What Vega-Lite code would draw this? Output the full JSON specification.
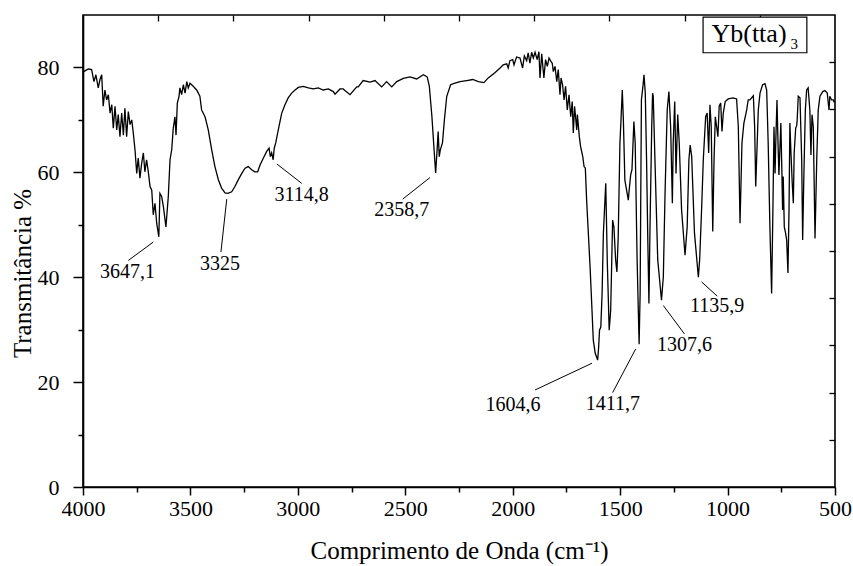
{
  "$schema": "https://vega.github.io/schema/vega-lite/v6.json",
  "width": 752,
  "height": 472,
  "autosize": {"type": "none"},
  "padding": {"left": 83, "top": 15, "right": 18, "bottom": 79},
  "background": "white",
  "config": {
    "view": {"stroke": "black", "strokeWidth": 1.6},
    "font": "Liberation Serif",
    "text": {"font": "Liberation Serif", "color": "black"}
  },
  "datasets": {
    "spectrum": [
      {"w": 4000, "t": 79.0}, {"w": 3993, "t": 79.3}, {"w": 3975, "t": 79.7}, {"w": 3960, "t": 79.6},
      {"w": 3949, "t": 77.3}, {"w": 3940, "t": 78.6}, {"w": 3929, "t": 76.1}, {"w": 3921, "t": 77.7},
      {"w": 3913, "t": 78.6}, {"w": 3906, "t": 72.6}, {"w": 3898, "t": 75.7}, {"w": 3890, "t": 73.8},
      {"w": 3882, "t": 74.8}, {"w": 3874, "t": 71.3}, {"w": 3866, "t": 72.9}, {"w": 3859, "t": 68.4},
      {"w": 3851, "t": 72.6}, {"w": 3843, "t": 68.1}, {"w": 3836, "t": 71.0}, {"w": 3828, "t": 66.8},
      {"w": 3820, "t": 71.3}, {"w": 3812, "t": 67.1}, {"w": 3805, "t": 72.2}, {"w": 3797, "t": 66.8},
      {"w": 3789, "t": 71.6}, {"w": 3781, "t": 69.1}, {"w": 3773, "t": 70.0}, {"w": 3766, "t": 67.5},
      {"w": 3758, "t": 64.3}, {"w": 3750, "t": 59.8}, {"w": 3743, "t": 62.7}, {"w": 3735, "t": 58.9},
      {"w": 3727, "t": 61.7}, {"w": 3719, "t": 63.7}, {"w": 3712, "t": 60.1}, {"w": 3704, "t": 62.4},
      {"w": 3696, "t": 60.1}, {"w": 3688, "t": 57.3}, {"w": 3680, "t": 56.6}, {"w": 3673, "t": 51.9},
      {"w": 3665, "t": 54.1}, {"w": 3657, "t": 50.3}, {"w": 3647.1, "t": 47.7}, {"w": 3642, "t": 56.0},
      {"w": 3634, "t": 55.4}, {"w": 3626, "t": 53.5}, {"w": 3618, "t": 50.9}, {"w": 3614, "t": 49.6},
      {"w": 3603, "t": 55.4}, {"w": 3595, "t": 62.4}, {"w": 3587, "t": 64.3}, {"w": 3580, "t": 68.4},
      {"w": 3572, "t": 70.6}, {"w": 3567, "t": 67.1}, {"w": 3561, "t": 73.2}, {"w": 3553, "t": 74.5},
      {"w": 3549, "t": 76.1}, {"w": 3541, "t": 74.8}, {"w": 3533, "t": 76.7}, {"w": 3525, "t": 75.1},
      {"w": 3517, "t": 77.3}, {"w": 3510, "t": 76.1}, {"w": 3502, "t": 77.0}, {"w": 3487, "t": 76.4},
      {"w": 3471, "t": 75.7}, {"w": 3456, "t": 74.5}, {"w": 3448, "t": 71.9}, {"w": 3432, "t": 70.6},
      {"w": 3417, "t": 68.1}, {"w": 3409, "t": 66.2}, {"w": 3401, "t": 64.3}, {"w": 3386, "t": 61.1},
      {"w": 3370, "t": 58.6}, {"w": 3355, "t": 57.0}, {"w": 3339, "t": 56.1}, {"w": 3325, "t": 56.0},
      {"w": 3308, "t": 56.3}, {"w": 3293, "t": 57.3}, {"w": 3277, "t": 58.6}, {"w": 3261, "t": 59.8},
      {"w": 3246, "t": 60.8}, {"w": 3231, "t": 61.1}, {"w": 3215, "t": 60.5}, {"w": 3200, "t": 60.1},
      {"w": 3187, "t": 60.1}, {"w": 3176, "t": 61.4}, {"w": 3161, "t": 62.7}, {"w": 3145, "t": 64.0},
      {"w": 3134, "t": 64.6}, {"w": 3128, "t": 63.0}, {"w": 3122, "t": 63.7}, {"w": 3114.8, "t": 62.4},
      {"w": 3110, "t": 64.6}, {"w": 3103, "t": 65.6}, {"w": 3094, "t": 67.5}, {"w": 3088, "t": 68.7},
      {"w": 3075, "t": 71.3}, {"w": 3060, "t": 72.9}, {"w": 3045, "t": 74.2}, {"w": 3029, "t": 75.1},
      {"w": 3013, "t": 75.7}, {"w": 2998, "t": 76.2}, {"w": 2975, "t": 76.4}, {"w": 2951, "t": 76.1},
      {"w": 2928, "t": 75.9}, {"w": 2905, "t": 76.1}, {"w": 2882, "t": 75.7}, {"w": 2858, "t": 75.9},
      {"w": 2835, "t": 75.4}, {"w": 2827, "t": 74.9}, {"w": 2804, "t": 75.9}, {"w": 2789, "t": 75.9},
      {"w": 2781, "t": 75.6}, {"w": 2757, "t": 74.8}, {"w": 2726, "t": 76.3}, {"w": 2719, "t": 76.3},
      {"w": 2696, "t": 77.5}, {"w": 2664, "t": 77.2}, {"w": 2641, "t": 77.5}, {"w": 2610, "t": 76.3},
      {"w": 2587, "t": 77.3}, {"w": 2563, "t": 76.3}, {"w": 2540, "t": 77.3}, {"w": 2509, "t": 77.9},
      {"w": 2478, "t": 78.2}, {"w": 2447, "t": 77.8}, {"w": 2416, "t": 78.6}, {"w": 2398, "t": 78.2},
      {"w": 2388, "t": 76.4}, {"w": 2376, "t": 70.6}, {"w": 2366, "t": 64.3}, {"w": 2358.7, "t": 59.9},
      {"w": 2351, "t": 64.9}, {"w": 2347, "t": 67.8}, {"w": 2342, "t": 63.0}, {"w": 2337, "t": 64.3},
      {"w": 2327, "t": 65.6}, {"w": 2318, "t": 70.0}, {"w": 2307, "t": 74.5}, {"w": 2289, "t": 76.7},
      {"w": 2269, "t": 77.0}, {"w": 2245, "t": 77.3}, {"w": 2214, "t": 77.5}, {"w": 2186, "t": 77.7},
      {"w": 2160, "t": 77.3}, {"w": 2134, "t": 77.1}, {"w": 2114, "t": 78.0}, {"w": 2083, "t": 79.0},
      {"w": 2059, "t": 79.9}, {"w": 2044, "t": 80.5}, {"w": 2028, "t": 80.7}, {"w": 2021, "t": 79.9},
      {"w": 2013, "t": 81.3}, {"w": 2000, "t": 81.5}, {"w": 1994, "t": 80.5}, {"w": 1982, "t": 82.0},
      {"w": 1966, "t": 81.8}, {"w": 1954, "t": 79.9}, {"w": 1946, "t": 82.2}, {"w": 1935, "t": 81.3},
      {"w": 1928, "t": 82.8}, {"w": 1920, "t": 80.8}, {"w": 1912, "t": 82.9}, {"w": 1904, "t": 81.8},
      {"w": 1896, "t": 82.9}, {"w": 1886, "t": 81.5}, {"w": 1878, "t": 83.0}, {"w": 1873, "t": 78.0},
      {"w": 1865, "t": 82.6}, {"w": 1855, "t": 78.0}, {"w": 1847, "t": 81.5}, {"w": 1839, "t": 80.2},
      {"w": 1831, "t": 81.8}, {"w": 1823, "t": 81.2}, {"w": 1816, "t": 80.8}, {"w": 1811, "t": 79.2},
      {"w": 1803, "t": 80.2}, {"w": 1795, "t": 77.3}, {"w": 1788, "t": 79.6}, {"w": 1780, "t": 74.8},
      {"w": 1775, "t": 78.0}, {"w": 1768, "t": 76.7}, {"w": 1761, "t": 73.8}, {"w": 1754, "t": 76.4},
      {"w": 1746, "t": 71.9}, {"w": 1738, "t": 74.8}, {"w": 1730, "t": 70.6}, {"w": 1723, "t": 73.5},
      {"w": 1718, "t": 67.5}, {"w": 1712, "t": 72.6}, {"w": 1702, "t": 68.1}, {"w": 1699, "t": 71.0},
      {"w": 1690, "t": 66.8}, {"w": 1684, "t": 64.9}, {"w": 1674, "t": 63.0}, {"w": 1668, "t": 61.1},
      {"w": 1662, "t": 60.8}, {"w": 1656, "t": 54.7}, {"w": 1648, "t": 48.4}, {"w": 1640, "t": 42.0},
      {"w": 1633, "t": 35.6}, {"w": 1625, "t": 28.0}, {"w": 1616, "t": 25.5}, {"w": 1604.6, "t": 24.2},
      {"w": 1600, "t": 26.7}, {"w": 1596, "t": 29.9}, {"w": 1590, "t": 30.5}, {"w": 1584, "t": 36.9},
      {"w": 1578, "t": 48.4}, {"w": 1567, "t": 57.9}, {"w": 1560, "t": 43.3}, {"w": 1551, "t": 29.9},
      {"w": 1544, "t": 33.7}, {"w": 1535, "t": 50.9}, {"w": 1529, "t": 49.6}, {"w": 1521, "t": 43.3},
      {"w": 1515, "t": 41.0}, {"w": 1509, "t": 47.7}, {"w": 1501, "t": 65.6}, {"w": 1496, "t": 70.0},
      {"w": 1490, "t": 75.7}, {"w": 1485, "t": 70.0}, {"w": 1478, "t": 58.5}, {"w": 1470, "t": 56.6},
      {"w": 1462, "t": 54.7}, {"w": 1458, "t": 56.6}, {"w": 1451, "t": 59.5}, {"w": 1445, "t": 60.5},
      {"w": 1436, "t": 69.7}, {"w": 1430, "t": 65.6}, {"w": 1421, "t": 43.3}, {"w": 1411.7, "t": 27.2},
      {"w": 1407, "t": 36.9}, {"w": 1401, "t": 73.8}, {"w": 1394, "t": 76.4}, {"w": 1389, "t": 78.6},
      {"w": 1383, "t": 75.1}, {"w": 1377, "t": 62.4}, {"w": 1371, "t": 46.5}, {"w": 1366, "t": 35.0},
      {"w": 1361, "t": 49.6}, {"w": 1353, "t": 68.7}, {"w": 1349, "t": 75.1}, {"w": 1346, "t": 74.5},
      {"w": 1338, "t": 62.4}, {"w": 1325, "t": 43.3}, {"w": 1307.6, "t": 35.6}, {"w": 1299, "t": 40.1},
      {"w": 1291, "t": 56.0}, {"w": 1281, "t": 71.9}, {"w": 1273, "t": 75.4}, {"w": 1265, "t": 68.7},
      {"w": 1257, "t": 54.1}, {"w": 1253, "t": 65.6}, {"w": 1246, "t": 73.5}, {"w": 1240, "t": 59.8},
      {"w": 1232, "t": 71.0}, {"w": 1225, "t": 65.6}, {"w": 1214, "t": 52.8}, {"w": 1198, "t": 44.2},
      {"w": 1188, "t": 49.6}, {"w": 1180, "t": 62.4}, {"w": 1174, "t": 65.2}, {"w": 1167, "t": 63.0},
      {"w": 1154, "t": 48.4}, {"w": 1135.9, "t": 40.0}, {"w": 1130, "t": 43.3}, {"w": 1121, "t": 52.8},
      {"w": 1113, "t": 62.4}, {"w": 1102, "t": 70.6}, {"w": 1095, "t": 71.3}, {"w": 1088, "t": 63.7},
      {"w": 1082, "t": 72.9}, {"w": 1076, "t": 68.7}, {"w": 1069, "t": 48.7}, {"w": 1063, "t": 62.4},
      {"w": 1057, "t": 70.6}, {"w": 1051, "t": 68.7}, {"w": 1045, "t": 66.8}, {"w": 1039, "t": 72.6},
      {"w": 1032, "t": 73.2}, {"w": 1026, "t": 67.8}, {"w": 1020, "t": 71.3}, {"w": 1011, "t": 73.5},
      {"w": 997, "t": 74.0}, {"w": 974, "t": 74.2}, {"w": 958, "t": 74.0}, {"w": 950, "t": 68.7},
      {"w": 942, "t": 50.3}, {"w": 933, "t": 65.6}, {"w": 924, "t": 69.4}, {"w": 911, "t": 71.9},
      {"w": 904, "t": 73.8}, {"w": 896, "t": 73.8}, {"w": 880, "t": 74.6}, {"w": 874, "t": 68.7},
      {"w": 869, "t": 57.3}, {"w": 857, "t": 71.9}, {"w": 849, "t": 75.1}, {"w": 837, "t": 76.7},
      {"w": 826, "t": 76.9}, {"w": 818, "t": 75.7}, {"w": 811, "t": 65.6}, {"w": 803, "t": 49.6},
      {"w": 795, "t": 36.9}, {"w": 789, "t": 52.8}, {"w": 784, "t": 68.7}, {"w": 779, "t": 59.8},
      {"w": 775, "t": 66.8}, {"w": 770, "t": 73.8}, {"w": 766, "t": 66.8}, {"w": 761, "t": 59.5},
      {"w": 756, "t": 64.9}, {"w": 752, "t": 69.4}, {"w": 747, "t": 59.8}, {"w": 744, "t": 52.8},
      {"w": 741, "t": 59.2}, {"w": 736, "t": 49.6}, {"w": 730, "t": 48.4}, {"w": 725, "t": 47.1},
      {"w": 719, "t": 40.8}, {"w": 714, "t": 52.8}, {"w": 710, "t": 69.4}, {"w": 705, "t": 63.7},
      {"w": 699, "t": 57.9}, {"w": 694, "t": 54.1}, {"w": 690, "t": 63.7}, {"w": 683, "t": 68.4},
      {"w": 678, "t": 69.0}, {"w": 676, "t": 70.0}, {"w": 671, "t": 74.5}, {"w": 663, "t": 74.2},
      {"w": 655, "t": 62.4}, {"w": 650.5, "t": 47.1}, {"w": 645, "t": 59.2}, {"w": 638, "t": 71.9},
      {"w": 632, "t": 75.7}, {"w": 625, "t": 76.1}, {"w": 617, "t": 71.9}, {"w": 612, "t": 63.3},
      {"w": 607, "t": 71.0}, {"w": 601, "t": 68.7}, {"w": 593, "t": 47.4}, {"w": 585, "t": 62.4},
      {"w": 578, "t": 71.9}, {"w": 570, "t": 74.5}, {"w": 557, "t": 75.4}, {"w": 547, "t": 75.6},
      {"w": 536, "t": 75.1}, {"w": 528, "t": 71.9}, {"w": 524, "t": 74.5}, {"w": 516, "t": 73.8},
      {"w": 508, "t": 73.8}, {"w": 503, "t": 73.3}
    ],
    "peaks": [
      {"label": "3647,1", "lx": 3793, "ly": 41.0, "ax": 3789, "ay": 43.2, "bx": 3673, "by": 46.7},
      {"label": "3325", "lx": 3362, "ly": 42.5, "ax": 3358, "ay": 44.8, "bx": 3331, "by": 54.9},
      {"label": "3114,8", "lx": 2982, "ly": 55.7, "ax": 3098, "ay": 61.6, "bx": 2982, "by": 57.9},
      {"label": "2358,7", "lx": 2517, "ly": 52.8, "ax": 2512, "ay": 54.9, "bx": 2385, "by": 59.0},
      {"label": "1604,6", "lx": 1999, "ly": 15.6, "ax": 1896, "ay": 18.5, "bx": 1631, "by": 23.6},
      {"label": "1411,7", "lx": 1534, "ly": 15.8, "ax": 1535, "ay": 18.0, "bx": 1428, "by": 26.3},
      {"label": "1307,6", "lx": 1200, "ly": 27.1, "ax": 1201, "ay": 29.2, "bx": 1299, "by": 34.6},
      {"label": "1135,9", "lx": 1049, "ly": 34.5, "ax": 1048, "ay": 36.4, "bx": 1121, "by": 39.1}
    ],
    "sample": [
      {"name": "Yb(tta)", "sub": "3", "x1": 1114, "x2": 631, "y1": 89.6, "y2": 82.8, "nx": 1075, "ny": 84.9, "sx": 707, "sy": 83.5}
    ],
    "frame": [{"u": 0, "v": 0}, {"u": 10, "v": 10}]
  },
  "resolve": {
    "scale": {"x": "independent", "y": "independent"},
    "axis": {"x": "independent", "y": "independent"}
  },
  "layer": [
    {
      "layer": [
        {
          "data": {"name": "spectrum"},
          "mark": {"type": "line", "color": "black", "strokeWidth": 1.3, "interpolate": "linear"},
          "encoding": {
            "x": {
              "field": "w",
              "type": "quantitative",
              "scale": {"domain": [4000, 500], "nice": false, "zero": false},
              "axis": {
                "title": "Comprimento de Onda (cm⁻¹)",
                "values": [4000, 3750, 3500, 3250, 3000, 2750, 2500, 2250, 2000, 1750, 1500, 1250, 1000, 750, 500],
                "format": "d",
                "labelExpr": "datum.value % 500 === 0 ? datum.label : ''",
                "tickSize": {"condition": {"test": "datum.value % 500 === 0", "value": 8}, "value": 5},
                "tickColor": "black",
                "tickWidth": 1.5,
                "domainColor": "black",
                "domainWidth": 1.6,
                "grid": false,
                "labelFont": "Liberation Serif",
                "labelFontSize": 22,
                "labelColor": "black",
                "labelPadding": 3,
                "labelFlush": false,
                "labelOverlap": false,
                "titleFont": "Liberation Serif",
                "titleFontSize": 25,
                "titleFontWeight": "normal",
                "titleColor": "black",
                "titleBaseline": "middle",
                "titleY": 63
              }
            },
            "y": {
              "field": "t",
              "type": "quantitative",
              "scale": {"domain": [0, 90], "nice": false},
              "axis": {
                "title": "Transmitância %",
                "values": [0, 10, 20, 30, 40, 50, 60, 70, 80],
                "format": "d",
                "labelExpr": "datum.value % 20 === 0 ? datum.label : ''",
                "tickSize": {"condition": {"test": "datum.value % 20 === 0", "value": 10}, "value": 5},
                "tickColor": "black",
                "tickWidth": 1.5,
                "domainColor": "black",
                "domainWidth": 1.6,
                "grid": false,
                "labelFont": "Liberation Serif",
                "labelFontSize": 22,
                "labelColor": "black",
                "labelPadding": 14,
                "labelOverlap": false,
                "titleFont": "Liberation Serif",
                "titleFontSize": 25,
                "titleFontWeight": "normal",
                "titleColor": "black",
                "titleAngle": -90,
                "titleBaseline": "middle",
                "titleAlign": "center",
                "titleX": -61,
                "titleY": 258
              }
            }
          }
        },
        {
          "data": {"name": "peaks"},
          "mark": {"type": "rule", "color": "black", "strokeWidth": 1},
          "encoding": {
            "x": {"field": "ax", "type": "quantitative"},
            "x2": {"field": "bx"},
            "y": {"field": "ay", "type": "quantitative"},
            "y2": {"field": "by"}
          }
        },
        {
          "data": {"name": "peaks"},
          "mark": {"type": "text", "fontSize": 20, "align": "center", "baseline": "middle", "font": "Liberation Serif", "color": "black"},
          "encoding": {
            "x": {"field": "lx", "type": "quantitative"},
            "y": {"field": "ly", "type": "quantitative"},
            "text": {"field": "label"}
          }
        },
        {
          "data": {"name": "sample"},
          "mark": {"type": "rect", "fill": "white", "stroke": "black", "strokeWidth": 1.2},
          "encoding": {
            "x": {"field": "x1", "type": "quantitative"},
            "x2": {"field": "x2"},
            "y": {"field": "y1", "type": "quantitative"},
            "y2": {"field": "y2"}
          }
        },
        {
          "data": {"name": "sample"},
          "mark": {"type": "text", "fontSize": 26, "align": "left", "baseline": "alphabetic", "font": "Liberation Serif", "color": "black"},
          "encoding": {
            "x": {"field": "nx", "type": "quantitative"},
            "y": {"field": "ny", "type": "quantitative"},
            "text": {"field": "name"}
          }
        },
        {
          "data": {"name": "sample"},
          "mark": {"type": "text", "fontSize": 15, "align": "left", "baseline": "alphabetic", "font": "Liberation Serif", "color": "black"},
          "encoding": {
            "x": {"field": "sx", "type": "quantitative"},
            "y": {"field": "sy", "type": "quantitative"},
            "text": {"field": "sub"}
          }
        }
      ]
    },
    {
      "data": {"name": "frame"},
      "mark": {"type": "point", "opacity": 0},
      "encoding": {
        "x": {
          "field": "u",
          "type": "quantitative",
          "scale": {"domain": [0, 10], "nice": false},
          "axis": {"orient": "top", "values": [1, 2, 3, 4, 5, 6, 7, 8, 9], "labels": false, "domain": false, "grid": false, "title": null, "tickSize": -6, "tickColor": "black", "tickWidth": 1.3}
        },
        "y": {
          "field": "v",
          "type": "quantitative",
          "scale": {"domain": [0, 10], "nice": false},
          "axis": {"orient": "right", "values": [1, 2, 3, 4, 5, 6, 7, 8, 9], "labels": false, "domain": false, "grid": false, "title": null, "tickSize": -6, "tickColor": "black", "tickWidth": 1.3}
        }
      }
    }
  ]
}
